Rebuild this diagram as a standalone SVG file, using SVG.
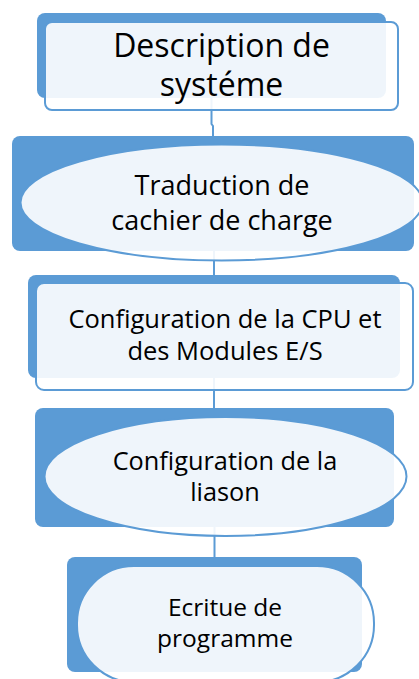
<svg xmlns="http://www.w3.org/2000/svg" width="419" height="679" viewBox="0 0 419 679">
<style>
.dark{fill:#5B9BD5;}
.light{fill:#FFFFFF;fill-opacity:0.9;stroke:#5B9BD5;stroke-width:2;}
.conn{fill:none;stroke:#5B9BD5;stroke-width:2;}
text{font-family:"Open Sans","Liberation Sans",sans-serif;fill:#000000;text-anchor:middle;}
</style>
<rect width="419" height="679" fill="#FFFFFF"/>
<g id="connectors">
<path class="conn" d="M211.5,97 V124 L213,126 V136"/>
<path class="conn" d="M214,250 V275"/>
<path class="conn" d="M214,378 V408"/>
<path class="conn" d="M214.5,527 V557"/>
</g>
<g id="node1">
<rect class="dark" x="37" y="13" width="349" height="85" rx="8"/>
<rect class="light" x="45" y="22" width="353" height="88" rx="7"/>
<text x="221.5" y="57" font-size="32">Description de</text>
<text x="221.5" y="96" font-size="32">systéme</text>
</g>
<g id="node2">
<rect class="dark" x="12" y="136" width="402" height="115" rx="8"/>
<ellipse class="light" cx="221.5" cy="202.5" rx="201" ry="58"/>
<text x="222" y="195" font-size="27">Traduction de</text>
<text x="222" y="230" font-size="27">cachier de charge</text>
</g>
<g id="node3">
<rect class="dark" x="28" y="275" width="372" height="103" rx="8"/>
<rect class="light" x="36" y="283" width="377" height="107" rx="8"/>
<text x="225" y="328" font-size="25.5">Configuration de la CPU et</text>
<text x="225" y="360" font-size="25.5">des Modules E/S</text>
</g>
<g id="node4">
<rect class="dark" x="35" y="408" width="359" height="119" rx="8"/>
<ellipse class="light" cx="225.5" cy="476.5" rx="181" ry="59.5"/>
<text x="225" y="470" font-size="25.3">Configuration de la</text>
<text x="225" y="501" font-size="25.3">liason</text>
</g>
<g id="node5">
<rect class="dark" x="67" y="557" width="295" height="115" rx="8"/>
<rect class="light" x="77" y="566" width="297" height="116" rx="57" ry="57"/>
<text x="225" y="616" font-size="24.5">Ecritue de</text>
<text x="225" y="647" font-size="24.5">programme</text>
</g>
</svg>
